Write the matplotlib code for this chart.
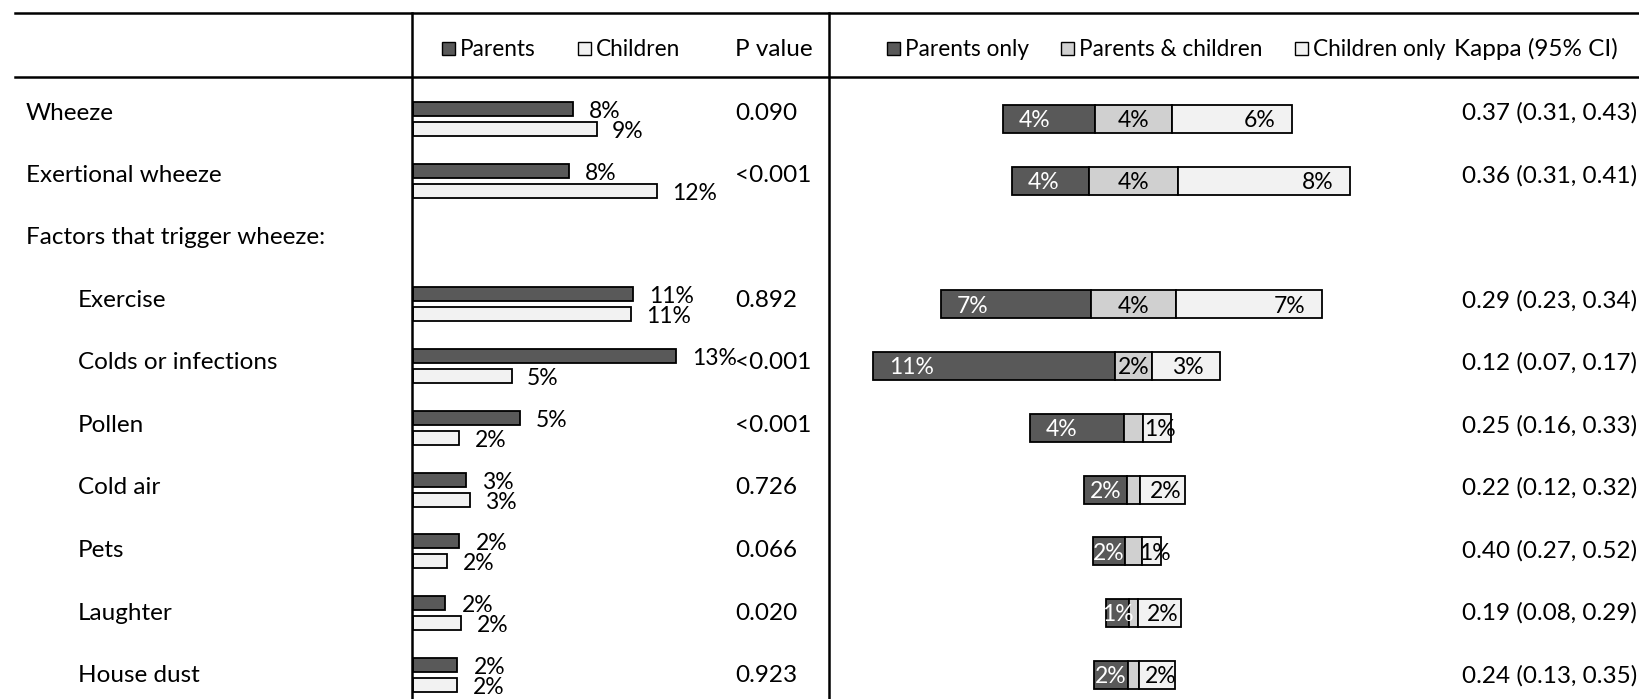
import matplotlib
matplotlib.use("Agg")
import matplotlib.pyplot as plt
from matplotlib.patches import Rectangle
from matplotlib.lines import Line2D

# Canvas (pixels)
W, H = 1640, 699
DPI = 100

# Rows of the table ("Factors..." is a sub heading without data)
row_labels = ["Wheeze", "Exertional wheeze", "Factors that trigger wheeze:",
              "Exercise", "Colds or infections", "Pollen", "Cold air",
              "Pets", "Laughter", "House dust"]
row_indent = [0, 0, 0, 1, 1, 1, 1, 1, 1, 1]

# Prevalence reported by parents / children (%)
parents_pct = [7.9, 7.7, None, 10.9, 13.0, 5.3, 2.6, 2.3, 1.6, 2.2]
children_pct = [9.1, 12.1, None, 10.8, 4.9, 2.3, 2.8, 1.7, 2.4, 2.2]
p_values = ["0.090", "<0.001", None, "0.892", "<0.001", "<0.001",
            "0.726", "0.066", "0.020", "0.923"]

# Agreement (%)
parents_only = [4.3, 3.6, None, 7.0, 11.3, 4.4, 2.0, 1.5, 1.1, 1.6]
both_report = [3.6, 4.2, None, 4.0, 1.7, 0.9, 0.6, 0.8, 0.4, 0.5]
children_only = [5.6, 8.0, None, 6.8, 3.2, 1.3, 2.1, 0.9, 2.0, 1.7]
kappa_ci = ["0.37 (0.31, 0.43)", "0.36 (0.31, 0.41)", None,
            "0.29 (0.23, 0.34)", "0.12 (0.07, 0.17)", "0.25 (0.16, 0.33)",
            "0.22 (0.12, 0.32)", "0.40 (0.27, 0.52)", "0.19 (0.08, 0.29)",
            "0.24 (0.13, 0.35)"]

DARK = "#595959"
MID = "#d0d0d0"
LIGHT = "#f2f2f2"
FS = 17.5        # table text
FS_BAR = 16.5    # labels on / next to bars
FS_LEG = 16.3    # legend keys in the header


def fx(x):
    return x / W


def fy(y):
    return 1 - y / H


def main():
    plt.rcParams['font.family'] = ['Lato', 'DejaVu Sans']
    fig = plt.figure(figsize=(W / DPI, H / DPI), dpi=DPI)

    bar_step = 61.75   # px between bar rows
    text_step = 62.5   # px between text rows
    top = 77
    ax_l = fig.add_axes([fx(413), 0, fx(829 - 413), 1 - top / H])
    ax_r = fig.add_axes([fx(830), 0, fx(W - 830), 1 - top / H])
    for ax in (ax_l, ax_r):
        ax.set_ylim((H - top) / bar_step, 0)
        ax.axis('off')
    ax_l.set_xlim(0, (829 - 413) / 20.2)
    ax_r.set_xlim(-(1133.5 - 830) / 21.4, (W - 1133.5) / 21.4)

    idx = [i for i, v in enumerate(parents_pct) if v is not None]
    yc = [i + 0.52 for i in idx]
    lab_dy = 0.04

    # 1. Parents vs children bars
    par = [parents_pct[i] for i in idx]
    chi = [children_pct[i] for i in idx]
    ax_l.barh(yc, par, height=0.23, color=DARK, edgecolor='black', linewidth=1.3)
    ax_l.barh([y + 0.324 for y in yc], chi, height=0.23, color=LIGHT,
              edgecolor='black', linewidth=1.3)
    for y, p, c in zip(yc, par, chi):
        ax_l.text(p + 0.8, y + lab_dy, f"{p:.0f}%", ha='left', va='center', fontsize=FS_BAR)
        ax_l.text(c + 0.75, y + 0.324 + lab_dy, f"{c:.0f}%", ha='left', va='center', fontsize=FS_BAR)

    # 2. Agreement bars, centred on the "both" segment
    po = [parents_only[i] for i in idx]
    bo = [both_report[i] for i in idx]
    co = [children_only[i] for i in idx]
    ys = [y + 0.162 for y in yc]
    left_po = [-(b / 2 + p) for p, b in zip(po, bo)]
    left_bo = [-b / 2 for b in bo]
    left_co = [b / 2 for b in bo]
    kw = dict(height=0.45, edgecolor='black', linewidth=1.3)
    ax_r.barh(ys, po, left=left_po, color=DARK, **kw)
    ax_r.barh(ys, bo, left=left_bo, color=MID, **kw)
    ax_r.barh(ys, co, left=left_co, color=LIGHT, **kw)
    pad = 0.75
    for y, p, b, c, lp, lb, lc in zip(ys, po, bo, co, left_po, left_bo, left_co):
        ty = y + 0.03
        if p >= 2.8:
            ax_r.text(lp + pad, ty, f"{p:.0f}%", ha='left', va='center', fontsize=FS_BAR, color='white')
        else:
            ax_r.text(lp + p / 2, ty, f"{p:.0f}%", ha='center', va='center', fontsize=FS_BAR, color='white')
        if b >= 1.5:
            ax_r.text(lb + b / 2, ty, f"{b:.0f}%", ha='center', va='center', fontsize=FS_BAR)
        if c >= 2.8:
            ax_r.text(lc + c - pad, ty, f"{c:.0f}%", ha='right', va='center', fontsize=FS_BAR)
        else:
            ax_r.text(lc + c / 2 + 0.15, ty, f"{c:.0f}%", ha='center', va='center', fontsize=FS_BAR)

    # 3. Text columns
    for i, lab in enumerate(row_labels):
        y = fy(110 + text_step * i + 3)
        x = 78 if row_indent[i] else 26
        fig.text(fx(x), y, lab, ha='left', va='center', fontsize=FS)
        if p_values[i] is not None:
            fig.text(fx(735), y, p_values[i], ha='left', va='center', fontsize=FS)
            fig.text(fx(1462), y, kappa_ci[i], ha='left', va='center', fontsize=FS)

    # 4. Header row
    hy = 49
    fig.text(fx(735), fy(hy), "P value", ha='left', va='center', fontsize=FS)
    fig.text(fx(1454), fy(hy), "Kappa (95% CI)", ha='left', va='center', fontsize=FS)
    legend_items = [(442, DARK, "Parents"), (578, LIGHT, "Children"),
                    (887, DARK, "Parents only"), (1061, MID, "Parents & children"),
                    (1295, LIGHT, "Children only")]
    sq = 13
    for x, col, lab in legend_items:
        fig.add_artist(Rectangle((fx(x), fy(48 + sq / 2)), sq / W, sq / H,
                                 transform=fig.transFigure, facecolor=col,
                                 edgecolor='black', linewidth=1.0))
        fig.text(fx(x + 18), fy(hy), lab, ha='left', va='center', fontsize=FS_LEG)

    # Table rules
    for y in (12.6, 76.5):
        fig.add_artist(Line2D([fx(15), 1], [fy(y), fy(y)], color='black', linewidth=1.8))
    for x in (412, 829):
        fig.add_artist(Line2D([fx(x), fx(x)], [fy(12.6), 0], color='black', linewidth=1.8))

    fig.savefig("out.png", dpi=DPI)
    plt.close(fig)


if __name__ == "__main__":
    main()
